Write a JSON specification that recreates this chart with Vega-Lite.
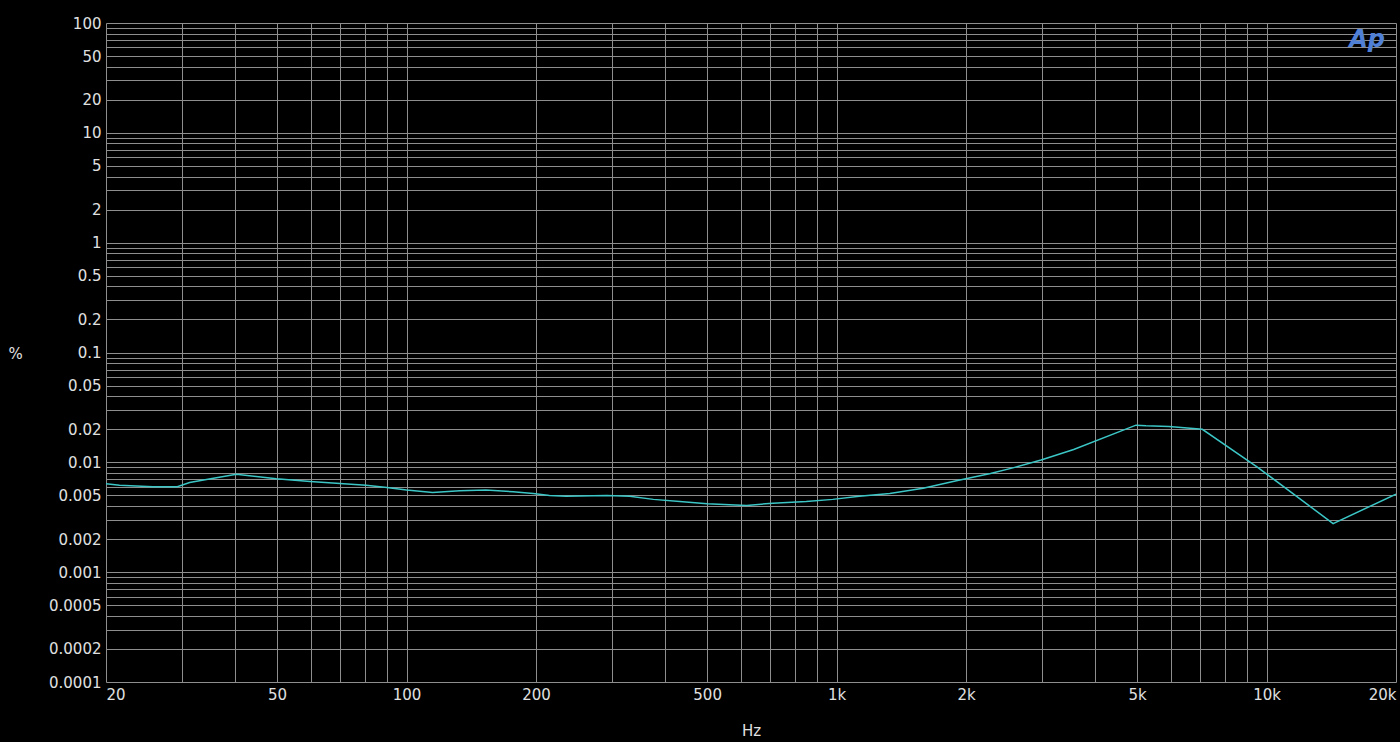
{
  "$schema": "https://vega.github.io/schema/vega-lite/v6.json",
  "width": 1290,
  "height": 659,
  "autosize": {"type": "none"},
  "padding": {"left": 106, "top": 23, "right": 4, "bottom": 60},
  "background": "#000000",
  "config": {
    "view": {"stroke": null},
    "axis": {
      "grid": true,
      "gridColor": "#8e8e8e",
      "gridWidth": 1,
      "gridOpacity": 1,
      "ticks": false,
      "domain": false,
      "labelFont": "DejaVu Sans",
      "labelFontSize": 15,
      "labelColor": "#e0e0e0",
      "labelOverlap": false,
      "titleFont": "DejaVu Sans",
      "titleFontSize": 15,
      "titleFontWeight": "normal",
      "titleColor": "#e0e0e0"
    }
  },
  "layer": [
    {
      "data": {
        "values": [
          {"f": 20, "thd": 0.0064},
          {"f": 21.5, "thd": 0.0062},
          {"f": 25.7, "thd": 0.0060},
          {"f": 29.3, "thd": 0.0060},
          {"f": 31.3, "thd": 0.00656},
          {"f": 35.3, "thd": 0.00713},
          {"f": 40.2, "thd": 0.0078},
          {"f": 49.8, "thd": 0.0071},
          {"f": 59.7, "thd": 0.0067},
          {"f": 70, "thd": 0.0064},
          {"f": 80.5, "thd": 0.0062},
          {"f": 90, "thd": 0.0059},
          {"f": 100, "thd": 0.0056},
          {"f": 115, "thd": 0.0053},
          {"f": 133, "thd": 0.0055},
          {"f": 153, "thd": 0.0056},
          {"f": 177, "thd": 0.0054},
          {"f": 197, "thd": 0.0052},
          {"f": 215, "thd": 0.0050},
          {"f": 235, "thd": 0.0049},
          {"f": 292, "thd": 0.0050},
          {"f": 330, "thd": 0.0049},
          {"f": 375, "thd": 0.0046},
          {"f": 432, "thd": 0.0044},
          {"f": 500, "thd": 0.0042},
          {"f": 618, "thd": 0.00405},
          {"f": 711, "thd": 0.00425},
          {"f": 850, "thd": 0.0044},
          {"f": 980, "thd": 0.0046},
          {"f": 1130, "thd": 0.0049},
          {"f": 1330, "thd": 0.0052},
          {"f": 1590, "thd": 0.0058},
          {"f": 1900, "thd": 0.0068},
          {"f": 2280, "thd": 0.0079},
          {"f": 2570, "thd": 0.0089},
          {"f": 2990, "thd": 0.0105},
          {"f": 3560, "thd": 0.0131},
          {"f": 4970, "thd": 0.0218},
          {"f": 5240, "thd": 0.0215},
          {"f": 5930, "thd": 0.0212},
          {"f": 7090, "thd": 0.0200},
          {"f": 9500, "thd": 0.0091},
          {"f": 14280, "thd": 0.00277},
          {"f": 20000, "thd": 0.00513}
        ]
      },
      "mark": {"type": "line", "color": "#3cc6c6", "strokeWidth": 1.5, "clip": true},
      "encoding": {
        "x": {
          "field": "f",
          "type": "quantitative",
          "scale": {"type": "log", "domain": [20, 20000], "nice": false},
          "axis": {
            "title": "Hz",
            "values": [20, 30, 40, 50, 60, 70, 80, 90, 100, 200, 300, 400, 500, 600, 700, 800, 900, 1000, 2000, 3000, 4000, 5000, 6000, 7000, 8000, 9000, 10000, 20000],
            "labelExpr": "indexof([1,2,5], round(datum.value / pow(10, floor(log(datum.value) / LN10 + 1e-6)))) >= 0 ? (datum.value >= 1000 ? (datum.value / 1000) + 'k' : '' + datum.value) : ''",
            "labelFlush": true,
            "labelPadding": 5,
            "titleX": 645,
            "titleY": 48,
            "titleBaseline": "middle",
            "titleAlign": "center"
          }
        },
        "y": {
          "field": "thd",
          "type": "quantitative",
          "scale": {"type": "log", "domain": [0.0001, 100], "nice": false},
          "axis": {
            "title": "%",
            "values": [0.0001, 0.0002, 0.0003, 0.0004, 0.0005, 0.0006, 0.0007, 0.0008, 0.0009, 0.001, 0.002, 0.003, 0.004, 0.005, 0.006, 0.007, 0.008, 0.009, 0.01, 0.02, 0.03, 0.04, 0.05, 0.06, 0.07, 0.08, 0.09, 0.1, 0.2, 0.3, 0.4, 0.5, 0.6, 0.7, 0.8, 0.9, 1, 2, 3, 4, 5, 6, 7, 8, 9, 10, 20, 30, 40, 50, 60, 70, 80, 90, 100],
            "labelExpr": "indexof([1,2,5], round(datum.value / pow(10, floor(log(datum.value) / LN10 + 1e-6)))) >= 0 ? format(datum.value, '~g') : ''",
            "labelFlush": false,
            "labelPadding": 5,
            "titleAngle": 0,
            "titleX": -91,
            "titleY": 330,
            "titleAlign": "center",
            "titleBaseline": "middle"
          }
        }
      }
    },
    {
      "data": {"values": [{"f": 17130, "thd": 70, "logo": "Ap"}]},
      "mark": {"type": "text", "color": "#4f80d6", "font": "DejaVu Sans", "fontSize": 24, "fontStyle": "italic", "fontWeight": "bold", "align": "center", "baseline": "middle"},
      "encoding": {
        "x": {"field": "f", "type": "quantitative"},
        "y": {"field": "thd", "type": "quantitative"},
        "text": {"field": "logo"}
      }
    }
  ]
}
